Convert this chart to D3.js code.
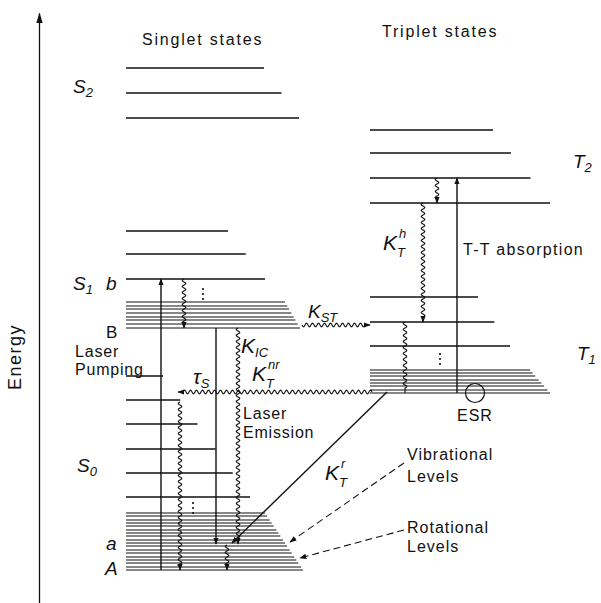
<!DOCTYPE html>
<html>
<head>
<meta charset="utf-8">
<script src="https://cdn.jsdelivr.net/npm/d3@7"></script>
<style>
  body { margin: 0; background: #fff; }
  text { font-family: "Liberation Sans", "DejaVu Sans", sans-serif; fill: #111; }
  .math { font-style: italic; }
</style>
</head>
<body>
<div id="container"></div>
<script>
const width = 601, height = 603;

/* DATA - energies in arbitrary units, ground level A = 0 */
const s2Levels = [452, 477, 502];
const s1Levels = [291, 316, 339];
const s1Band = [242, 246, 250, 253, 257, 261, 264, 268];
const s0Levels = [73, 97, 121, 146, 170, 194];
const s0Band = [0, 3, 7, 10, 13, 17, 20, 24, 27, 30, 34, 37, 40, 44, 47, 50, 54, 57];
const t2Levels = [367, 392, 417, 440];
const t1Levels = [224, 248, 273];
const t1Band = [177, 180, 184, 187, 190, 194, 197, 200];

// named states
const eA = 0, ea = 26, eB = 242, eb = 291, eT1 = 177, eT1v = 248, eT2 = 367, eT2v = 392;

// vertical transitions: column, from energy, to energy, kind
const verticals = [
  { col: 122, from: eA, to: eb, kind: "solid", head: true },     // laser pumping
  { col: 145, from: eb, to: eB, kind: "wavy", head: true },
  { col: 177, from: eB, to: ea, kind: "solid", head: true },     // tau S
  { col: 199, from: eB, to: ea, kind: "wavy", head: true },      // K_IC
  { col: 188, from: ea - 1, to: eA, kind: "wavy", head: true },
  { col: 141, from: 168, to: eA, kind: "wavy", head: true },
  { col: 398, from: eT2v, to: eT2, kind: "wavy", head: true },
  { col: 384, from: eT2, to: eT1v, kind: "wavy", head: true },   // K_T^h
  { col: 418, from: eT1, to: eT2v, kind: "solid", head: true },  // T-T absorption
  { col: 366, from: eT1v, to: eT1, kind: "wavy", head: false }
];
// horizontal / oblique transitions: [x, energy] pairs
const obliques = [
  { p0: [263, 245], p1: [331, 245], kind: "wavy" },   // K_ST
  { p0: [333, 178], p1: [139, 178], kind: "wavy" },   // K_T^nr
  { p0: [348, 178], p1: [193, 27], kind: "solid" },   // K_T^r
  { p0: [365, 107], p1: [251, 28], kind: "dashed" },  // vibrational
  { p0: [365, 40], p1: [261, 12], kind: "dashed" }    // rotational
];

/* SCALES */
const xScale = d3.scaleLinear().domain([0, 560]).range([39, 599]);
const yScale = d3.scaleLinear().domain([-33, 557]).range([603, 13]);

// right end of each level line (per manifold)
const sLeft = 87, tLeft = 331;
const s2Right = d3.scaleLinear().domain([452, 502]).range([260, 225]);
const s1Right = d3.scaleLinear().domain([291, 339]).range([226, 189]);
const s1BandRight = d3.scaleLinear().domain([242, 268]).range([261, 246]);
const s0Right = d3.scaleLinear().domain([73, 194]).range([211, 124]);
const s0BandRight = d3.scaleLinear().domain([0, 57]).range([264, 226]);
const t2Right = d3.scaleLinear().domain([367, 440]).range([511, 454]);
const t1Right = d3.scaleLinear().domain([224, 273]).range([471, 439]);
const t1BandRight = d3.scaleLinear().domain([177, 200]).range([511, 491]);

const svg = d3.select("#container")
  .append("svg")
  .attr("width", width)
  .attr("height", height);

const defs = svg.append("defs");
defs.append("marker")
  .attr("id", "arrow")
  .attr("viewBox", "0 0 10 10")
  .attr("refX", 9).attr("refY", 5)
  .attr("markerWidth", 7).attr("markerHeight", 7)
  .attr("markerUnits", "userSpaceOnUse")
  .attr("orient", "auto")
  .append("path")
  .attr("d", "M0,1.2 L10,5 L0,8.8 Z")
  .attr("fill", "#111");
defs.append("marker")
  .attr("id", "arrowBig")
  .attr("viewBox", "0 0 10 10")
  .attr("refX", 9).attr("refY", 5)
  .attr("markerWidth", 11).attr("markerHeight", 11)
  .attr("markerUnits", "userSpaceOnUse")
  .attr("orient", "auto")
  .append("path")
  .attr("d", "M0,2 L10,5 L0,8 Z")
  .attr("fill", "#111");

/* ENERGY AXIS */
const yAxis = d3.axisLeft(yScale).tickValues([]).tickSizeOuter(0);
svg.append("g")
  .attr("transform", `translate(${xScale(0)}, 0)`)
  .call(yAxis)
  .call(g => g.select(".domain")
    .attr("stroke", "#111")
    .attr("stroke-width", 1.3)
    .attr("marker-end", "url(#arrowBig)"));

svg.append("text")
  .attr("transform", `translate(21, ${yScale(213)}) rotate(-90)`)
  .attr("text-anchor", "middle")
  .style("font-size", "18px")
  .style("letter-spacing", "1.5px")
  .text("Energy");

/* LEVELS */
function drawLevels(values, left, rightScale, sw) {
  svg.append("g")
    .selectAll("line")
    .data(values)
    .join("line")
    .attr("x1", xScale(left))
    .attr("x2", d => xScale(rightScale(d)))
    .attr("y1", d => yScale(d))
    .attr("y2", d => yScale(d))
    .attr("stroke", "#111")
    .attr("stroke-width", sw);
}
drawLevels(s2Levels, sLeft, s2Right, 1.4);
drawLevels(s1Levels, sLeft, s1Right, 1.4);
drawLevels(s1Band, sLeft, s1BandRight, 1.2);
drawLevels(s0Levels, sLeft, s0Right, 1.4);
drawLevels(s0Band, sLeft, s0BandRight, 1.2);
drawLevels(t2Levels, tLeft, t2Right, 1.4);
drawLevels(t1Levels, tLeft, t1Right, 1.4);
drawLevels(t1Band, tLeft, t1BandRight, 1.2);

/* TRANSITIONS */
function wavyPath(x1, y1, x2, y2, amp = 1.8, wl = 6, tail = 5) {
  const dx = x2 - x1, dy = y2 - y1, L = Math.hypot(dx, dy);
  const ux = dx / L, uy = dy / L, nx = -uy, ny = ux;
  const pts = [];
  for (let t = 0; t <= L - tail; t += 0.5) {
    const o = amp * Math.sin(2 * Math.PI * t / wl);
    pts.push([x1 + ux * t + nx * o, y1 + uy * t + ny * o]);
  }
  pts.push([x1 + ux * (L - tail), y1 + uy * (L - tail)]);
  pts.push([x2, y2]);
  return d3.line()(pts);
}

svg.append("g")
  .selectAll("path")
  .data(verticals)
  .join("path")
  .attr("d", d => {
    const x = xScale(d.col), y1 = yScale(d.from), y2 = yScale(d.to);
    return d.kind === "wavy" ? wavyPath(x, y1, x, y2) : `M${x},${y1}V${y2}`;
  })
  .attr("fill", "none")
  .attr("stroke", "#111")
  .attr("stroke-width", d => d.kind === "wavy" ? 1.1 : 1.4)
  .attr("marker-end", d => d.head ? "url(#arrow)" : null);

svg.append("g")
  .selectAll("path")
  .data(obliques)
  .join("path")
  .attr("d", d => {
    const x1 = xScale(d.p0[0]), y1 = yScale(d.p0[1]);
    const x2 = xScale(d.p1[0]), y2 = yScale(d.p1[1]);
    return d.kind === "wavy" ? wavyPath(x1, y1, x2, y2) : `M${x1},${y1}L${x2},${y2}`;
  })
  .attr("fill", "none")
  .attr("stroke", "#111")
  .attr("stroke-width", d => d.kind === "solid" ? 1.4 : 1.1)
  .attr("stroke-dasharray", d => d.kind === "dashed" ? "7,4" : null)
  .attr("marker-end", "url(#arrow)");

// ESR circle
svg.append("circle")
  .attr("cx", xScale(436)).attr("cy", yScale(177))
  .attr("r", 9.5)
  .attr("fill", "none")
  .attr("stroke", "#111")
  .attr("stroke-width", 1.2);

// vertical dots
const dotGroups = [[164, 281], [154, 67], [401, 216]];
dotGroups.forEach(([x, e]) => {
  svg.append("g").selectAll("circle")
    .data([0, 5, 10])
    .join("circle")
    .attr("cx", xScale(x))
    .attr("cy", d => yScale(e - d))
    .attr("r", 1.1)
    .attr("fill", "#111");
});

/* LABELS */
const plainLabels = [
  ["Singlet states", 103, 525, 16, 1.8],
  ["Triplet states", 343, 533, 16, 1.8],
  ["B", 67, 232, 17, 0],
  ["Laser", 36, 213, 16, 0.8],
  ["Pumping", 36, 195, 16, 0.8],
  ["Laser", 204, 151, 16, 0.8],
  ["Emission", 204, 132, 16, 0.8],
  ["T-T absorption", 424, 315, 16, 1.3],
  ["ESR", 418, 149, 16, 1],
  ["Vibrational", 368, 110, 16, 1],
  ["Levels", 368, 88, 16, 1],
  ["Rotational", 368, 37, 16, 1],
  ["Levels", 368, 18, 16, 1]
];
svg.append("g")
  .selectAll("text")
  .data(plainLabels)
  .join("text")
  .attr("x", d => xScale(d[1]))
  .attr("y", d => yScale(d[2]))
  .style("font-size", d => d[3] + "px")
  .style("letter-spacing", d => d[4] + "px")
  .text(d => d[0]);

// symbol, x, energy, size, subscript, superscript
const mathLabels = [
  ["S", 34, 477, 19, "2", null],
  ["S", 34, 280, 19, "1", null],
  ["b", 67, 280, 19, null, null],
  ["S", 38, 98, 19, "0", null],
  ["a", 67, 20, 19, null, null],
  ["A", 66, -5, 19, null, null],
  ["τ", 154, 186, 21, "S", null],
  ["K", 202, 217, 21, "IC", null],
  ["K", 213, 189, 21, "T", "nr"],
  ["K", 269, 252, 19, "ST", null],
  ["K", 344, 320, 21, "T", "h"],
  ["K", 286, 90, 21, "T", "r"],
  ["T", 534, 402, 19, "2", null],
  ["T", 538, 210, 19, "1", null]
];
const mg = svg.append("g").attr("class", "math");
mathLabels.forEach(([s, x, e, size, sub, sup]) => {
  const px = xScale(x), py = yScale(e);
  const t = mg.append("text")
    .attr("x", px).attr("y", py)
    .style("font-size", size + "px");
  const main = t.append("tspan").text(s);
  const w = main.node().getComputedTextLength();
  if (sub) {
    t.append("tspan")
      .attr("x", px + w)
      .attr("y", py + (sup ? 7 : 4))
      .style("font-size", "13px")
      .text(sub);
  }
  if (sup) {
    t.append("tspan")
      .attr("x", px + w + 2)
      .attr("y", py - 12)
      .style("font-size", "13px")
      .text(sup);
  }
});
</script>
</body>
</html>
